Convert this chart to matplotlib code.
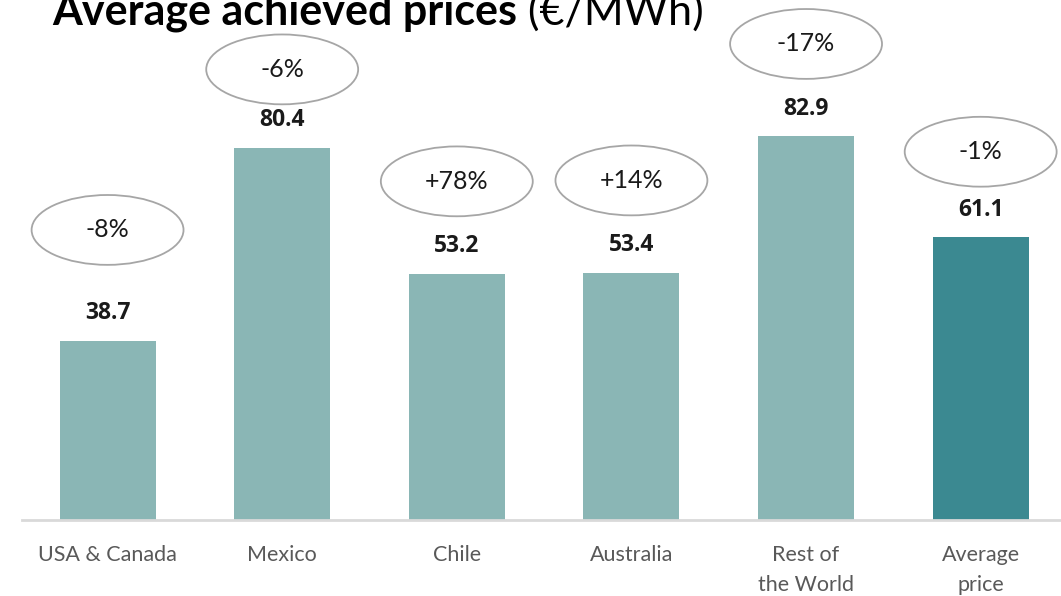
import matplotlib.pyplot as plt
from matplotlib.patches import Ellipse

# data
regions = ["USA & Canada", "Mexico", "Chile", "Australia", "Rest of\nthe World", "Average\nprice"]
prices = [38.7, 80.4, 53.2, 53.4, 82.9, 61.1]
changes = ["-8%", "-6%", "+78%", "+14%", "-17%", "-1%"]

# layout only: height of each bubble above its bar
bubble_gap = [24, 17, 20, 20, 20, 18.5]

light = "#8ab6b5"
dark = "#3b8991"
colors = [light] * (len(prices) - 1) + [dark]

fig = plt.figure(figsize=(10.61, 5.96), dpi=100)
ax = fig.add_axes([22 / 1061, 76 / 596, 1039 / 1061, 520 / 596])

x = list(range(len(prices)))
ax.bar(x, prices, width=0.55, color=colors, zorder=2)
ax.set_xlim(-0.49, 5.46)
ax.set_ylim(0, 112.4)

for s in ["top", "right", "left"]:
    ax.spines[s].set_visible(False)
ax.spines["bottom"].set_color("#d9d9d9")
ax.spines["bottom"].set_linewidth(2)
ax.set_yticks([])
ax.set_xticks(x)
ax.set_xticklabels(regions, fontsize=15.5, color="#595959", family="Lato", linespacing=1.6)
ax.tick_params(axis="x", length=0, pad=18)

for i, v in enumerate(prices):
    ax.text(i, v + 6, f"{v:.1f}", ha="center", va="center", fontsize=16.5,
            fontweight="bold", family="Open Sans", color="#1a1a1a")
    yc = v + bubble_gap[i]
    ax.add_patch(Ellipse((i, yc), 0.87, 15.1, facecolor="white", edgecolor="#a6a6a6",
                         linewidth=1.3, zorder=3))
    ax.text(i, yc, changes[i], ha="center", va="center", fontsize=18,
            family="Lato", color="#1a1a1a", zorder=4)

t1 = fig.text(52 / 1061, 1 - 25 / 596, "Average achieved prices", fontsize=31,
              fontweight="bold", family="Lato", va="baseline", color="black")
fig.canvas.draw()
bb = t1.get_window_extent()
fig.text(bb.x1 / fig.bbox.width, 1 - 25 / 596, " (€/MWh)", fontsize=31,
         family="Lato", va="baseline", color="black")

fig.savefig("out.png", dpi=100)
